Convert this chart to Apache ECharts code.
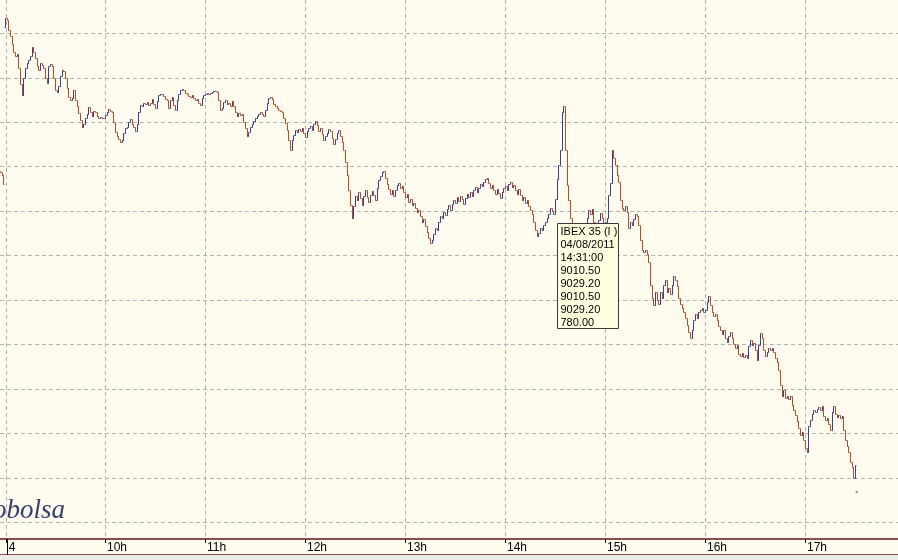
<!DOCTYPE html>
<html><head><meta charset="utf-8">
<script src="https://cdn.jsdelivr.net/npm/echarts@6/dist/echarts.min.js"></script>
<style>html,body{margin:0;padding:0;background:#ecebe3}#c{width:898px;height:560px}</style>
</head><body><div id="c"></div><script>
// ---- data ----
const hourTicks = [541, 600, 660, 720, 780, 840, 900, 960, 1020];
const hourLabels = ['4', '10h', '11h', '12h', '13h', '14h', '15h', '16h', '17h'];
const gridLevels = [8720, 8760, 8800, 8840, 8880, 8920, 8960, 9000, 9040, 9080, 9120, 9160];
const sessionStart = 540; // 09:00, minutes since midnight
const dayOpen = 9165.7;
const closes = [
9173.8,9172.0,9163.0,9157.6,9150.4,9143.2,9139.6,9141.4,9128.8,9114.4,
9104.5,9119.8,9128.8,9133.3,9136.0,9139.6,9147.7,9143.2,9137.8,9130.6,
9127.0,9133.3,9131.5,9128.8,9119.8,9115.3,9130.6,9132.4,9130.6,9119.8,
9109.0,9107.2,9112.6,9121.6,9127.0,9126.1,9119.8,9110.8,9102.7,9100.0,
9101.8,9109.0,9100.0,9094.6,9088.3,9082.0,9075.7,9078.4,9083.8,9087.4,
9093.7,9089.2,9085.6,9090.1,9089.2,9085.6,9083.8,9084.7,9083.8,9083.8,
9086.5,9089.2,9091.9,9090.1,9089.2,9080.2,9071.2,9067.6,9064.9,9062.2,
9064.0,9070.3,9074.8,9075.7,9080.2,9082.9,9078.4,9075.7,9072.1,9078.4,
9089.2,9095.5,9094.6,9097.3,9096.4,9098.2,9095.5,9097.3,9100.9,9096.4,
9092.8,9099.1,9104.5,9105.4,9105.4,9103.6,9100.9,9100.0,9092.8,9100.0,
9102.7,9095.5,9091.0,9100.0,9105.4,9109.0,9109.9,9109.0,9106.3,9105.4,
9103.6,9102.7,9104.5,9101.8,9100.0,9100.9,9097.3,9095.5,9101.8,9104.5,
9105.4,9106.3,9105.4,9106.3,9107.2,9108.1,9108.1,9107.2,9100.0,9091.0,
9092.8,9098.2,9100.0,9096.4,9097.3,9094.6,9099.1,9094.6,9089.2,9085.6,
9088.3,9086.5,9087.4,9080.2,9074.8,9067.6,9071.2,9075.7,9078.4,9081.1,
9083.8,9085.6,9087.4,9089.2,9087.4,9085.6,9091.0,9097.3,9101.8,9102.7,
9100.9,9096.4,9094.6,9092.8,9091.0,9090.1,9089.2,9083.8,9079.3,9073.0,
9064.0,9055.0,9064.0,9068.5,9073.0,9071.2,9073.9,9072.1,9074.8,9070.3,
9066.7,9072.1,9074.8,9076.6,9073.0,9078.4,9081.1,9077.5,9072.1,9074.8,
9069.4,9064.0,9067.6,9070.3,9073.9,9072.1,9065.8,9060.4,9064.9,9070.3,
9073.0,9067.6,9062.2,9055.0,9044.2,9032.5,9019.0,9005.5,8993.8,9004.6,
9013.6,9010.0,9017.2,9011.8,9005.5,9013.6,9019.0,9012.7,9008.2,9014.5,
9018.1,9014.5,9010.0,9020.8,9028.0,9031.6,9035.2,9036.1,9029.8,9024.4,
9019.9,9015.4,9019.0,9013.6,9019.0,9023.5,9025.3,9020.8,9022.6,9017.2,
9012.7,9015.4,9008.2,9010.9,9005.5,9007.3,9002.8,8999.2,9001.0,8995.6,
8990.2,8992.9,8986.6,8981.2,8975.8,8971.3,8974.0,8979.4,8984.8,8983.0,
8990.2,8995.6,8993.8,8999.2,8996.5,9001.9,9005.5,9001.0,9006.4,9010.0,
9007.3,9012.7,9009.1,9013.6,9010.9,9006.4,9011.8,9015.4,9012.7,9017.2,
9013.6,9019.0,9021.7,9017.2,9020.8,9024.4,9022.6,9026.2,9028.9,9029.8,
9025.3,9020.8,9023.5,9019.0,9015.4,9019.9,9016.3,9011.8,9017.2,9020.8,
9022.6,9019.0,9024.4,9026.2,9021.7,9023.5,9019.0,9015.4,9019.9,9014.5,
9010.0,9012.7,9007.3,9010.0,9004.6,9001.0,8997.4,8990.2,8983.0,8977.6,
8980.3,8984.8,8983.0,8987.5,8990.2,8993.8,8997.4,9002.8,9000.1,8997.4,
9010.5,9029.2,9041.5,9055.0,9089.2,9094.6,9055.0,9023.5,9010.0,8993.8,
8987.5,8981.2,8975.8,8978.5,8974.0,8977.6,8983.0,8984.8,8988.4,8993.8,
9001.0,8997.4,9001.9,8990.2,8984.8,8986.6,8992.0,8998.3,8993.8,8988.4,
8990.2,8993.8,9014.5,9025.3,9055.0,9047.8,9041.5,9032.5,9026.2,9010.0,
9002.8,9001.0,9004.6,8999.2,8984.8,8990.2,8987.5,8992.9,8997.4,8995.6,
8987.5,8974.0,8965.0,8963.2,8965.0,8961.4,8954.2,8933.5,8921.8,8915.5,
8927.2,8920.0,8916.4,8927.2,8921.8,8933.5,8938.0,8927.2,8930.8,8925.4,
8933.5,8941.6,8938.0,8932.6,8921.8,8916.4,8912.8,8909.2,8903.8,8897.5,
8891.2,8885.8,8893.0,8902.0,8907.4,8903.8,8909.2,8911.0,8912.8,8909.2,
8911.0,8918.2,8923.6,8915.5,8909.2,8905.6,8907.4,8902.0,8896.6,8893.0,
8889.4,8893.0,8885.8,8882.2,8887.6,8891.2,8885.8,8880.4,8876.8,8879.5,
8871.4,8869.6,8872.3,8868.7,8870.5,8867.8,8878.6,8884.0,8879.5,8881.3,
8875.0,8866.0,8879.5,8890.3,8885.8,8875.0,8869.6,8873.2,8876.8,8875.0,
8876.8,8873.2,8867.8,8864.2,8857.0,8843.5,8833.6,8839.0,8831.8,8833.6,
8830.9,8833.6,8825.5,8821.0,8816.5,8811.1,8804.8,8798.5,8801.2,8794.0,
8786.8,8783.2,8806.6,8812.0,8817.4,8821.0,8819.2,8821.9,8823.7,8821.0,
8824.6,8815.6,8812.0,8813.8,8808.4,8803.0,8819.2,8824.6,8817.4,8814.7,
8816.5,8813.8,8815.6,8803.0,8794.0,8788.6,8783.2,8774.2,8769.7,8759.8,
8771.5
];
const prevDayMinutes = [537, 538, 539];
const prevDayOpen = 9036.0;
const prevDayCloses = [9035.2, 9032.5, 9024.4];
const auctionMinute = 1051;
const auctionPrice = 8747.2;
const tipTitle = 'IBEX 35 (I )';
const tipDate = '04/08/2011';
const tipTime = '14:31:00';
const tipValues = ['9010.50', '9029.20', '9010.50', '9029.20', '780.00'];

// ---- styles ----
const BLUE = '#3b3f86', RED = '#b54c28';
const BG = '#fffbef';
const AXIS_RED = '#8d4d4d';

// ---- build bars [minute, open, close] ----
const bars = [];
let prev = prevDayOpen;
prevDayCloses.forEach((c, i) => { bars.push([prevDayMinutes[i], prev, c]); prev = c; });
prev = dayOpen;
closes.forEach((c, i) => { bars.push([sessionStart + i, prev, c]); prev = c; });

const chart = echarts.init(document.getElementById('c'), null, {renderer: 'canvas'});
const X_MIN = 537, X_MAX = 537 + 898 * 0.6;
chart.setOption({
  backgroundColor: BG,
  animation: false,
  grid: {left: 0, right: 0, top: 0, bottom: 21, containLabel: false},
  xAxis: {
    type: 'value', min: X_MIN, max: X_MAX,
    axisLine: {show: true, lineStyle: {color: AXIS_RED, width: 2}},
    axisTick: {show: true, customValues: hourTicks, length: 4, lineStyle: {color: '#000', width: 1}},
    axisLabel: {
      show: true, customValues: hourTicks, align: 'left', margin: 3,
      padding: [0, 0, 0, 2],
      fontFamily: 'Liberation Sans', fontSize: 12, color: '#000',
      formatter: v => { const i = hourTicks.indexOf(v); return i >= 0 ? hourLabels[i] : ''; }
    },
    splitLine: {show: true, lineStyle: {color: '#b3b3b3', type: [4, 3], width: 1}}
  },
  yAxis: {
    type: 'value', min: 8704.9, max: 9190,
    axisLine: {show: false},
    axisTick: {show: false, customValues: gridLevels},
    axisLabel: {show: false},
    splitLine: {show: true, lineStyle: {color: '#b3b3b3', type: [4, 3], width: 1}}
  },
  series: [{
    type: 'custom',
    data: bars,
    encode: {x: 0, y: [1, 2]},
    clip: true,
    silent: true,
    z: 3,
    renderItem: function (params, api) {
      const t = api.value(0), o = api.value(1), c = api.value(2);
      const po = api.coord([t, o]), pc = api.coord([t, c]);
      const x = Math.round(po[0]) + 0.5;
      const yo = Math.round(po[1]) + 0.5, yc = Math.round(pc[1]) + 0.5;
      const color = c >= o ? BLUE : RED;
      return {
        type: 'polyline',
        shape: {points: [[x - 1, yo], [x, yo], [x, yc], [x + 1, yc]]},
        style: {stroke: color, lineWidth: 1, fill: null}
      };
    }
  }, {
    type: 'scatter',
    data: [[auctionMinute, auctionPrice]],
    symbol: 'rect', symbolSize: 2,
    itemStyle: {color: RED},
    silent: true, z: 3
  }]
});

const tp = tipTime.split(':');
const tipMinute = (+tp[0]) * 60 + (+tp[1]);
const tipPx = chart.convertToPixel({gridIndex: 0}, [tipMinute, 9029.2]);
const sepPx = chart.convertToPixel({gridIndex: 0}, [hourTicks[0], 9000]);
const tx = Math.round(tipPx[0]) + 0.5;
const tipLines = [tipTitle, tipDate, tipTime].concat(tipValues);

chart.setOption({
  graphic: [
    {type: 'rect', z: 50, silent: true, shape: {x: 0, y: 555, width: 898, height: 5}, style: {fill: '#ecebe3'}},
    {type: 'line', z: 50, silent: true, shape: {x1: 0, y1: 554.5, x2: 898, y2: 554.5}, style: {stroke: AXIS_RED, lineWidth: 1}},
    {type: 'line', z: 50, silent: true, shape: {x1: Math.round(sepPx[0]) + 0.5, y1: 539, x2: Math.round(sepPx[0]) + 0.5, y2: 555}, style: {stroke: '#000', lineWidth: 1}},
    {type: 'text', z: 20, silent: true, style: {text: 'infobolsa', x: 65, y: 511, align: 'right', verticalAlign: 'middle',
      font: 'italic 27px "Liberation Serif"', fill: '#34406e'}},
    {type: 'group', z: 100, x: tx, y: 223.5, silent: true, children: [
      {type: 'rect', shape: {x: 0, y: 0, width: 61, height: 105}, style: {fill: '#ffffe1', stroke: '#3a3a3a', lineWidth: 1}, z: 100},
      {type: 'text', style: {text: tipLines.join('\n'), x: 3, y: 2, font: '11px "Liberation Sans"', lineHeight: 13, fill: '#000'}, z: 101}
    ]}
  ]
});
</script></body></html>
